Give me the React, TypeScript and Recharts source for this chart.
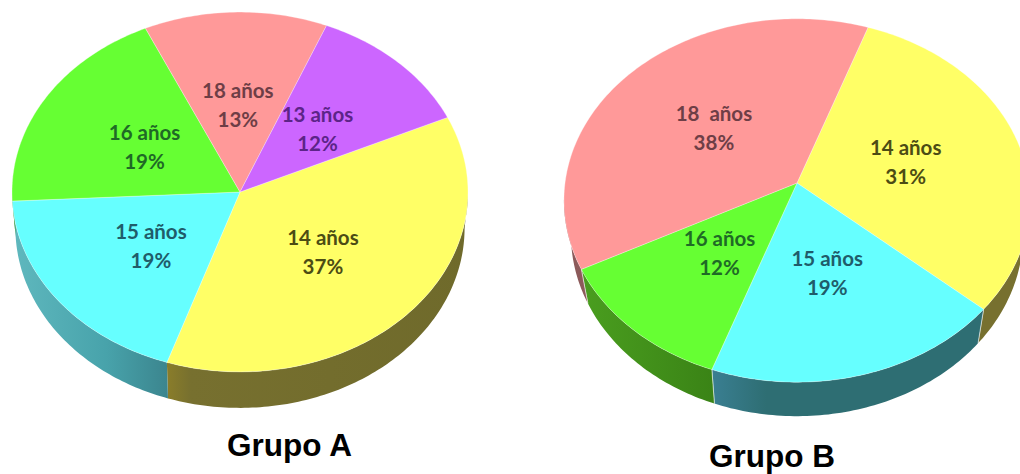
import { Pie, PieChart } from "recharts";

const agesA = ["14 años", "15 años", "16 años", "18 años", "13 años"];
const sharesA = [37, 19, 19, 13, 12];
const agesB = ["14 años", "15 años", "16 años", "18  años"];
const sharesB = [31, 19, 12, 38];

const tableA = agesA.map((age, i) => ({ age, share: sharesA[i] }));
const tableB = agesB.map((age, i) => ({ age, share: sharesB[i] }));

const topFill: Record<string, string> = {
  "13": "#cc66ff",
  "14": "#ffff66",
  "15": "#66ffff",
  "16": "#66ff33",
  "18": "#ff9999",
};
const inkFill: Record<string, string> = {
  "13": "#5c2488",
  "14": "#4c4c14",
  "15": "#205c6a",
  "16": "#1f6a26",
  "18": "#6e3e46",
};
const sideFillA: Record<string, string> = {
  "13": "#7a3d99",
  "14": "url(#sideYellowA)",
  "15": "url(#sideCyanA)",
  "16": "#3f991f",
  "18": "#995c5c",
};
const sideFillB: Record<string, string> = {
  "14": "#77702f",
  "15": "url(#sideCyanB)",
  "16": "url(#sideGreenB)",
  "18": "#8c5a5a",
};

type Tilt = {
  squash: number;
  perspective: number;
  depth: number;
  rimScale: number;
  seam: number;
  sides: Record<string, string>;
};

const tiltA: Tilt = { squash: 0.789, perspective: 0, depth: 36, rimScale: 0.985, seam: 0, sides: sideFillA };
const tiltB: Tilt = { squash: 0.776, perspective: 0.096, depth: 34, rimScale: 0.97, seam: 0.5, sides: sideFillB };

const RAD = Math.PI / 180;

// Point on the tilted disc for a polar angle and a radius given in pixels
function project(cx: number, cy: number, radius: number, angle: number, tilt: Tilt, outer: number) {
  const u = Math.cos(angle * RAD);
  const v = -Math.sin(angle * RAD);
  const f = radius / (1 - (tilt.perspective * v * radius) / outer);
  return { x: cx + f * u, y: cy + f * tilt.squash * v };
}

function toPath(points: { x: number; y: number }[]) {
  return points.map((p, i) => `${i ? "L" : "M"}${p.x.toFixed(2)} ${p.y.toFixed(2)}`).join(" ") + " Z";
}

function sliceArc(props: any, tilt: Tilt) {
  const { cx, cy, outerRadius, startAngle, endAngle } = props;
  const steps = Math.max(8, Math.ceil(Math.abs(endAngle - startAngle)));
  const arc = [];
  for (let i = 0; i <= steps; i++) {
    const angle = startAngle + ((endAngle - startAngle) * i) / steps;
    arc.push(project(cx, cy, outerRadius, angle, tilt, outerRadius));
  }
  return arc;
}

const ageKey = (props: any) => String(props.age ?? props.payload?.age).slice(0, 2);

// Outer wall of a slice: only the near part of the rim, where the arc runs right to left
const makeWall = (tilt: Tilt) => (props: any) => {
  const arc = sliceArc(props, tilt);
  const near = arc.filter((p, i) => {
    const next = arc[i + 1];
    const prev = arc[i - 1];
    return (next && next.x < p.x) || (prev && p.x < prev.x);
  });
  if (near.length < 2) return <g />;
  const lower = (p: { x: number; y: number }) => ({
    x: props.cx + (p.x - props.cx) * tilt.rimScale,
    y: p.y + tilt.depth,
  });
  const wall = [...near, ...[...near].reverse().map(lower)];
  const cuts = [arc[0], arc[arc.length - 1]].filter((p) => near.includes(p));
  return (
    <g>
      <path d={toPath(wall)} fill={tilt.sides[ageKey(props)]} stroke="none" />
      {tilt.seam > 0 &&
        cuts.map((p, i) => (
          <line key={i} x1={p.x} y1={p.y} x2={lower(p).x} y2={lower(p).y} stroke="#ffffff" strokeOpacity={tilt.seam} />
        ))}
    </g>
  );
};

const makeTop = (tilt: Tilt) => (props: any) => (
  <path
    d={toPath([{ x: props.cx, y: props.cy }, ...sliceArc(props, tilt)])}
    fill={topFill[ageKey(props)]}
    stroke="#ffffff"
    strokeOpacity={0.3}
  />
);

const makeLabel = (tilt: Tilt) => (props: any) => {
  const { cx, cy, outerRadius, midAngle } = props;
  const age = props.age ?? props.payload?.age;
  const value = props.share ?? props.payload?.share;
  const at = project(cx, cy, outerRadius * 0.49, midAngle, tilt, outerRadius);
  return (
    <text
      x={at.x}
      textAnchor="middle"
      fontFamily="Lato, 'Open Sans', sans-serif"
      fontWeight={700}
      fontSize={20.5}
      fill={inkFill[ageKey(props)]}
      style={{ whiteSpace: "pre" }}
    >
      <tspan x={at.x} y={at.y - 6}>{age}</tspan>
      <tspan x={at.x} y={at.y + 23}>{value}%</tspan>
    </text>
  );
};

const titleFont = "'Liberation Sans', Arial, sans-serif";

export default function App() {
  return (
    <div style={{ position: "absolute", left: 0, top: 0 }}>
      <PieChart width={1020} height={474} margin={{ top: 0, right: 0, bottom: 0, left: 0 }}>
        <defs>
          <linearGradient id="sideCyanA" x1="0" y1="0" x2="1" y2="0">
            <stop offset="0" stopColor="#5fb8be" />
            <stop offset="0.6" stopColor="#48a3ab" />
            <stop offset="1" stopColor="#3b858e" />
          </linearGradient>
          <linearGradient id="sideYellowA" x1="0" y1="0" x2="1" y2="0">
            <stop offset="0" stopColor="#8a7d2a" />
            <stop offset="0.08" stopColor="#77702f" />
            <stop offset="1" stopColor="#6f6a2b" />
          </linearGradient>
          <linearGradient id="sideGreenB" x1="0" y1="0" x2="1" y2="0">
            <stop offset="0" stopColor="#4a9e1f" />
            <stop offset="1" stopColor="#3a8316" />
          </linearGradient>
          <linearGradient id="sideCyanB" x1="0" y1="0" x2="1" y2="0">
            <stop offset="0" stopColor="#3a7f92" />
            <stop offset="0.2" stopColor="#2e6e73" />
            <stop offset="1" stopColor="#2e6e73" />
          </linearGradient>
        </defs>
        {/* walls go in their own layer so no wall can paint over a neighbouring top */}
        <Pie
          data={tableA}
          dataKey="share"
          cx={240}
          cy={192}
          outerRadius={228}
          startAngle={24.5}
          endAngle={-335.5}
          stroke="none"
          shape={makeWall(tiltA)}
          isAnimationActive={false}
        />
        <Pie
          data={tableA}
          dataKey="share"
          nameKey="age"
          cx={240}
          cy={192}
          outerRadius={228}
          startAngle={24.5}
          endAngle={-335.5}
          stroke="none"
          labelLine={false}
          label={makeLabel(tiltA)}
          shape={makeTop(tiltA)}
          isAnimationActive={false}
        />
        <Pie
          data={tableB}
          dataKey="share"
          cx={797}
          cy={183}
          outerRadius={232}
          startAngle={70.5}
          endAngle={-289.5}
          stroke="none"
          shape={makeWall(tiltB)}
          isAnimationActive={false}
        />
        <Pie
          data={tableB}
          dataKey="share"
          nameKey="age"
          cx={797}
          cy={183}
          outerRadius={232}
          startAngle={70.5}
          endAngle={-289.5}
          stroke="none"
          labelLine={false}
          label={makeLabel(tiltB)}
          shape={makeTop(tiltB)}
          isAnimationActive={false}
        />
        <text x={289.5} y={456} textAnchor="middle" fontFamily={titleFont} fontWeight={700} fontSize={31.5} fill="#000000">
          Grupo A
        </text>
        <text x={772} y={467} textAnchor="middle" fontFamily={titleFont} fontWeight={700} fontSize={31.5} fill="#000000">
          Grupo B
        </text>
      </PieChart>
    </div>
  );
}
